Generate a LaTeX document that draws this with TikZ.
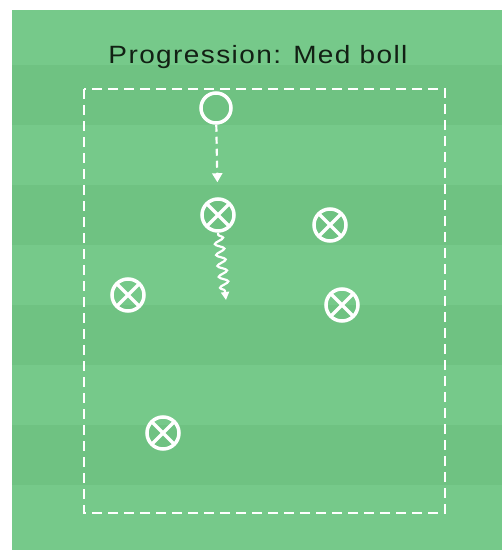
\documentclass[tikz,border=0pt]{standalone}
\usepackage{fontspec}
\setmainfont{Liberation Sans}
\usetikzlibrary{arrows.meta,decorations.pathmorphing}

\definecolor{pitchlight}{RGB}{118,201,138}
\definecolor{pitchdark}{RGB}{111,194,130}
\definecolor{titleink}{RGB}{18,32,20}

\begin{document}
\begin{tikzpicture}[x=1pt, y=-1pt,
    player/.style={circle, draw=white, line width=3.5pt, minimum size=32pt, inner sep=0pt,
        path picture={\draw[white, line width=3.5pt]
            (path picture bounding box.north west) -- (path picture bounding box.south east)
            (path picture bounding box.north east) -- (path picture bounding box.south west);}},
    ballmark/.style={circle, draw=white, line width=3.5pt, minimum size=30pt, inner sep=0pt},
    pass/.style={white, line width=2.2pt, dash pattern=on 7pt off 5pt, -{Triangle[length=9pt,width=10pt]}},
    dribble/.style={white, line width=2.2pt, -{Triangle[length=8pt,width=8pt]},
        decorate, decoration={snake, amplitude=4.5pt, segment length=11pt, pre length=2pt, post length=6pt}},
    area/.style={white, line width=2.4pt, dash pattern=on 10pt off 6pt}]
        \useasboundingbox (0,0) rectangle (502,552);

        % Pitch
        \fill[white] (0,0) rectangle (502,552);
        \fill[pitchlight] (12,10) rectangle (502,550);
        \foreach \y in {65,185,305,425}
            \fill[pitchdark] (12,\y) rectangle (502,\y+60);

        % Title
        \node[titleink, anchor=base, inner sep=0pt, xscale=1.12,
            font=\fontsize{25}{30}\selectfont\addfontfeatures{LetterSpace=5}] (title) at (258,63) {Progression: Med boll};

        % Area
        \draw[area] (84,89) rectangle (445,513);

        % Ball and players
        \node[ballmark] (ball) at (216,108) {};
        \foreach \n/\x/\y in {p1/218/215, p2/330/225, p3/342/305, p4/128/295, p5/163/433}
            \node[player] (\n) at (\x,\y) {};

        % Pass and dribble
        \draw[pass, shorten >=15pt] (ball) -- (p1);
        \coordinate (dribbleend) at (226,300);
        \draw[dribble] (p1.south) -- (dribbleend);
    \end{tikzpicture}
\end{document}
